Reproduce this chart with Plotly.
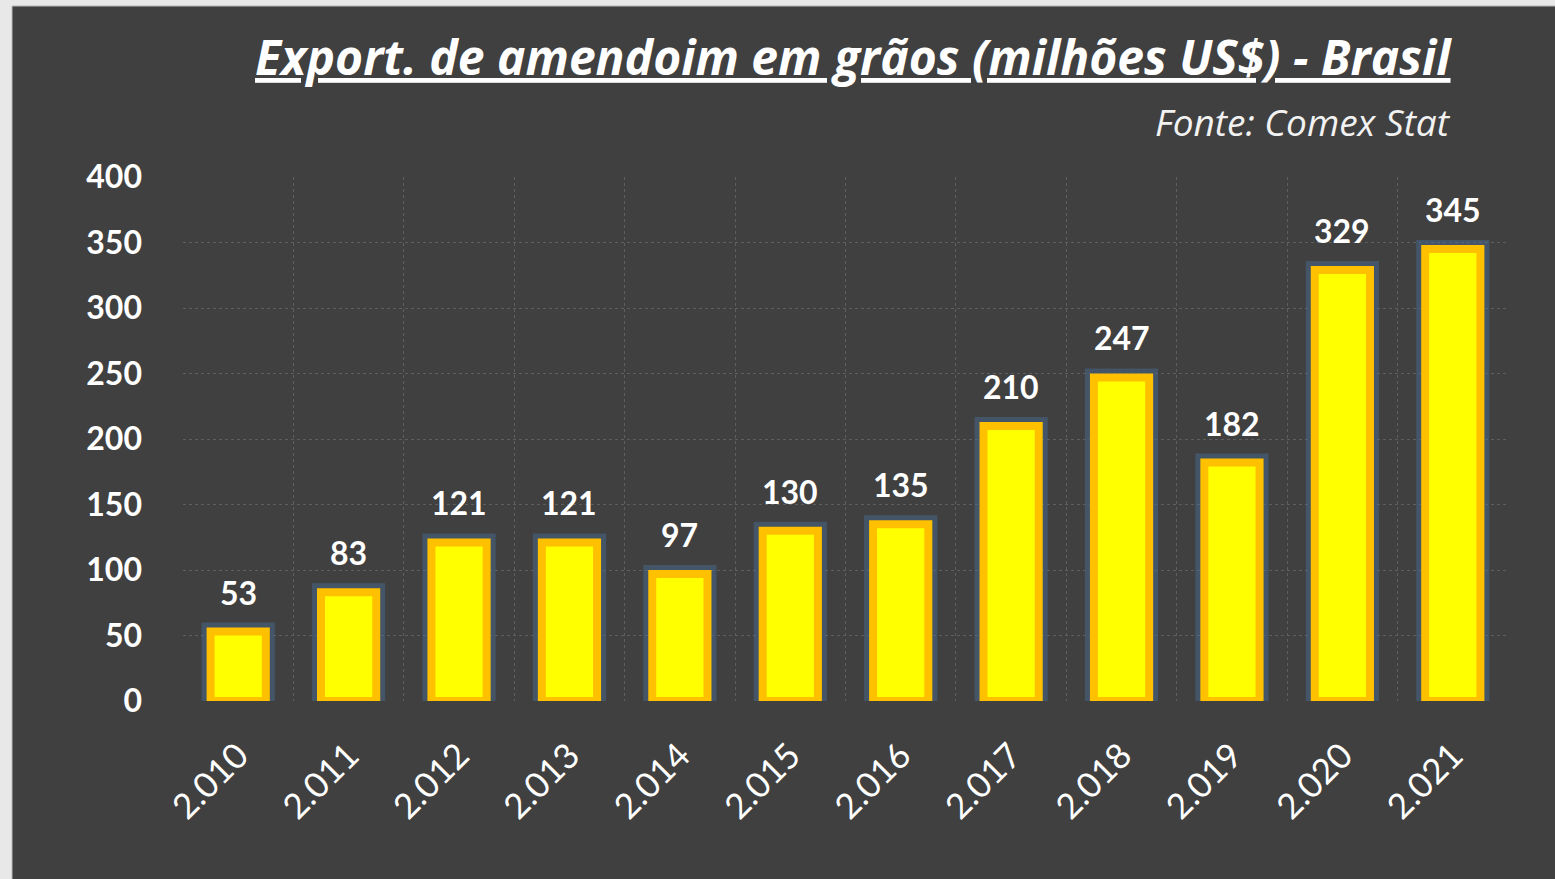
import plotly.graph_objects as go

years = ["2.010", "2.011", "2.012", "2.013", "2.014", "2.015",
         "2.016", "2.017", "2.018", "2.019", "2.020", "2.021"]
values = [53, 83, 121, 121, 97, 130, 135, 210, 247, 182, 329, 345]
y_ticks = [0, 50, 100, 150, 200, 250, 300, 350, 400]

W, H = 1555, 879
L, R, T, B = 183, 1508, 177, 701
pw, ph = R - L, B - T


def px(x):
    return (x - L) / pw


def py(y):
    return (B - y) / ph


NUM_FONT = "Lato"
TXT_FONT = "Open Sans"
BG = "#404040"

fig = go.Figure()
# glow behind bars
fig.add_trace(go.Bar(
    x=years, y=values, width=0.5,
    marker=dict(color="rgba(0,0,0,0)", line=dict(color="rgba(70,110,150,0.45)", width=18)),
    hoverinfo="skip", showlegend=False,
))
fig.add_trace(go.Bar(
    x=years, y=values, width=0.5,
    marker=dict(color="#FFFF00", line=dict(color="#FFC000", width=8)),
    showlegend=False,
))

for i, v in enumerate(values):
    fig.add_annotation(x=i, y=v, text=str(v), showarrow=False,
                       yanchor="bottom", yshift=18,
                       font=dict(family=NUM_FONT, size=32, color="white", weight="bold"))

fig.add_annotation(xref="paper", yref="paper", x=px(1454), y=py(91),
                   xanchor="right", yanchor="bottom",
                   text="<i><u>Export. de amendoim em grãos (milhões US$) - Brasil</u></i>",
                   showarrow=False,
                   font=dict(family=TXT_FONT, size=48, color="white", weight="bold"))
fig.add_annotation(xref="paper", yref="paper", x=px(1453), y=py(122),
                   xanchor="right", yanchor="middle",
                   text="<i>Fonte: Comex Stat</i>",
                   showarrow=False, font=dict(family=TXT_FONT, size=37, color="#f2f2f2"))

# light page border on left and top
fig.add_shape(type="rect", xref="paper", yref="paper", layer="above",
              x0=px(0), x1=px(12), y0=py(H), y1=py(0),
              fillcolor="#e8e8e8", line=dict(width=0))
fig.add_shape(type="rect", xref="paper", yref="paper", layer="above",
              x0=px(0), x1=px(W), y0=py(6), y1=py(0),
              fillcolor="#e8e8e8", line=dict(width=0))
fig.add_shape(type="line", xref="paper", yref="paper", layer="above",
              x0=px(12), x1=px(12), y0=py(H), y1=py(6),
              line=dict(color="#b8b8b8", width=1))
fig.add_shape(type="line", xref="paper", yref="paper", layer="above",
              x0=px(12), x1=px(W), y0=py(6), y1=py(6),
              line=dict(color="#b8b8b8", width=1))

fig.update_layout(
    width=W, height=H,
    margin=dict(l=L, r=W - R, t=T, b=H - B, autoexpand=False),
    paper_bgcolor=BG, plot_bgcolor=BG,
    barmode="overlay", bargap=0.5,
    xaxis=dict(type="category", tickson="boundaries", showgrid=True,
               gridcolor="#5e5e5e", griddash="dot", gridwidth=1,
               tickangle=-45, ticks="", ticklabelstandoff=26,
               tickfont=dict(family=NUM_FONT, size=35, color="white"),
               showline=False, zeroline=False, fixedrange=True),
    yaxis=dict(range=[0, 400], tickvals=y_ticks, showgrid=True,
               gridcolor="#5e5e5e", griddash="dot", gridwidth=1,
               ticks="", ticklabelstandoff=40, zeroline=False,
               tickfont=dict(family=NUM_FONT, size=32, color="white", weight="bold"),
               fixedrange=True),
)

fig.write_html("out.html", config={"displayModeBar": False},
               post_script="document.body.style.margin='0';")
